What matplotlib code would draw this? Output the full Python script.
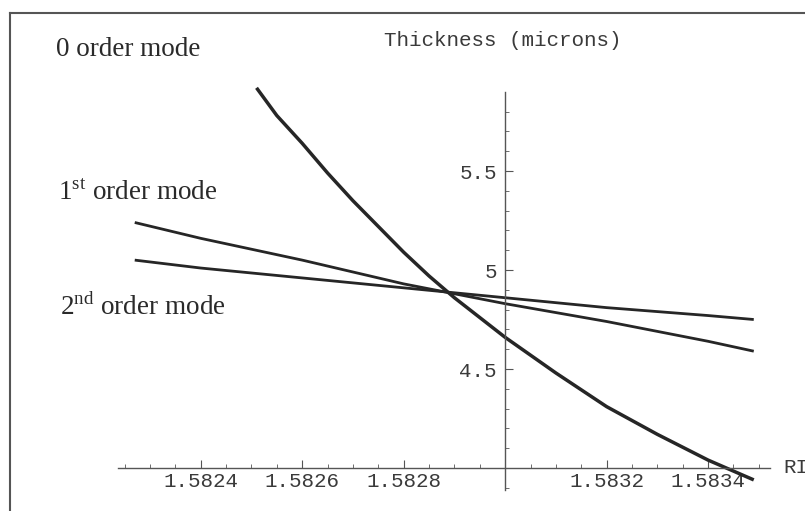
import numpy as np
import matplotlib
matplotlib.use('Agg')
import matplotlib.pyplot as plt
from matplotlib.lines import Line2D
from matplotlib.ticker import FixedLocator, MultipleLocator, FuncFormatter

plt.rcParams['mathtext.fontset'] = 'custom'
plt.rcParams['mathtext.rm'] = 'Liberation Serif'

# refractive index (x) and film thickness in microns (y)
ri_0 = [1.58251, 1.58255, 1.5826, 1.58265, 1.5827, 1.58275, 1.5828, 1.58285, 1.5829,
        1.58295, 1.5830, 1.5831, 1.5832, 1.5833, 1.5834, 1.58349]
thick_0 = [5.92, 5.78, 5.64, 5.49, 5.35, 5.22, 5.09, 4.97, 4.86,
           4.76, 4.66, 4.48, 4.31, 4.17, 4.04, 3.94]

ri_12 = [1.58227, 1.5824, 1.5826, 1.5828, 1.5830, 1.5832, 1.5834, 1.58349]
thick_1 = [5.24, 5.16, 5.05, 4.93, 4.83, 4.74, 4.64, 4.59]
thick_2 = [5.05, 5.01, 4.96, 4.91, 4.86, 4.81, 4.77, 4.75]

x_ticks = [1.5824, 1.5826, 1.5828, 1.5832, 1.5834]
y_ticks = [4.5, 5, 5.5]

W, H = 805, 511
fig = plt.figure(figsize=(W / 100, H / 100), dpi=100)
fig.patch.set_facecolor('white')


def fx(px):
    return px / W


def fy(py):
    return 1 - py / H


ax = fig.add_axes([fx(118), fy(490), (770 - 118) / W, (490 - 92) / H])
ax.set_xlim(1.582237, 1.583522)
ax.set_ylim(3.889, 5.899)
ax.patch.set_alpha(0)

axis_col = '#555555'
for s in ['top', 'right']:
    ax.spines[s].set_visible(False)
ax.spines['left'].set_position(('data', 1.583))
ax.spines['bottom'].set_position(('data', 4.0))
for s in ['left', 'bottom']:
    ax.spines[s].set_color(axis_col)
    ax.spines[s].set_linewidth(1.0)

line_col = '#262626'
ax.plot(ri_0, thick_0, color=line_col, lw=2.5, clip_on=False, solid_capstyle='butt')
ax.plot(ri_12, thick_1, color=line_col, lw=2.0, solid_capstyle='butt')
ax.plot(ri_12, thick_2, color=line_col, lw=2.0, solid_capstyle='butt')

mono = 'Liberation Mono'
ax.xaxis.set_major_locator(FixedLocator(x_ticks))
ax.xaxis.set_minor_locator(MultipleLocator(0.00005))
ax.yaxis.set_major_locator(FixedLocator(y_ticks))
ax.yaxis.set_minor_locator(MultipleLocator(0.1))
ax.xaxis.set_major_formatter(FuncFormatter(lambda v, p: '%.4f' % v))
ax.yaxis.set_major_formatter(FuncFormatter(lambda v, p: '%g' % v))
ax.tick_params(axis='both', which='major', direction='in', length=6, width=0.8,
               color=axis_col, labelcolor='#3a3a3a', labelsize=15)
ax.tick_params(axis='both', which='minor', direction='in', length=3, width=0.6,
               color=axis_col)
ax.tick_params(axis='x', pad=3)
ax.tick_params(axis='y', pad=6)
for lab in ax.get_xticklabels() + ax.get_yticklabels():
    lab.set_fontfamily(mono)

# axis labels, Mathematica style
fig.text(fx(503), fy(41), 'Thickness (microns)', ha='center', va='center',
         family=mono, fontsize=15, color='#3a3a3a')
fig.text(fx(783), fy(467), 'RI', ha='left', va='center',
         family=mono, fontsize=15, color='#3a3a3a')

# mode labels
serif = 'Liberation Serif'
fig.text(fx(56), fy(50), '0 order mode', ha='left', va='center',
         family=serif, fontsize=19.5, color='#2a2a2a')
fig.text(fx(58), fy(193), '1$^{\\mathrm{st}}$ order mode', ha='left', va='center',
         family=serif, fontsize=19.5, color='#2a2a2a')
fig.text(fx(60), fy(307), '2$^{\\mathrm{nd}}$ order mode', ha='left', va='center',
         family=serif, fontsize=19.5, color='#2a2a2a')

# frame of the scanned figure
fig.add_artist(Line2D([fx(10), fx(10)], [fy(13), 0], transform=fig.transFigure,
                      color='#555555', lw=1.5))
fig.add_artist(Line2D([fx(10), 1], [fy(13), fy(13)], transform=fig.transFigure,
                      color='#555555', lw=1.5))

fig.savefig('out.png', dpi=100)
